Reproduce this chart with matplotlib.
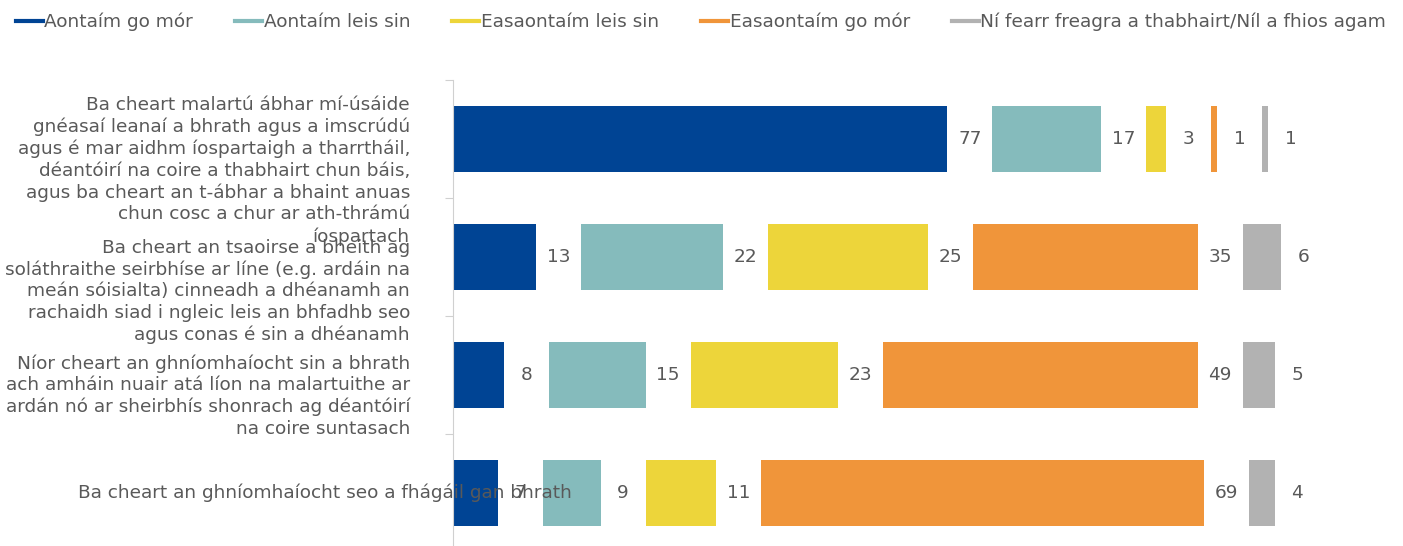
import matplotlib.pyplot as plt
import matplotlib.transforms as mtransforms
import numpy as np
from matplotlib.lines import Line2D

plt.rcParams["font.family"] = ["DejaVu Sans"]

# survey statements (top to bottom)
statements = [
    "Ba cheart malartú ábhar mí-úsáide\ngnéasaí leanaí a bhrath agus a imscrúdú\nagus é mar aidhm íospartaigh a tharrtháil,\ndéantóirí na coire a thabhairt chun báis,\nagus ba cheart an t-ábhar a bhaint anuas\nchun cosc a chur ar ath-thrámú\níospartach",
    "Ba cheart an tsaoirse a bheith ag\nsoláthraithe seirbhíse ar líne (e.g. ardáin na\nmeán sóisialta) cinneadh a dhéanamh an\nrachaidh siad i ngleic leis an bhfadhb seo\nagus conas é sin a dhéanamh",
    "Níor cheart an ghníomhaíocht sin a bhrath\nach amháin nuair atá líon na malartuithe ar\nardán nó ar sheirbhís shonrach ag déantóirí\nna coire suntasach",
    "Ba cheart an ghníomhaíocht seo a fhágáil gan bhrath",
]
answers = ["Aontaím go mór", "Aontaím leis sin", "Easaontaím leis sin",
           "Easaontaím go mór", "Ní fearr freagra a thabhairt/Níl a fhios agam"]

agree_strong = [77, 13, 8, 7]
agree = [17, 22, 15, 9]
disagree = [3, 25, 23, 11]
disagree_strong = [1, 35, 49, 69]
no_answer = [1, 6, 5, 4]

series = [agree_strong, agree, disagree, disagree_strong, no_answer]
colors = ["#004494", "#85BBBC", "#EDD53A", "#F0953A", "#B2B2B2"]
txt_col = "#595959"
FS = 13.3
GAP = 7  # blank space after each segment, holds its value label

fig = plt.figure(figsize=(14.03, 5.46), dpi=100)
ax = fig.add_axes([453 / 1403, 0, 942 / 1403, 1 - 80 / 546])

y = np.arange(len(statements))
left = np.zeros(len(statements))
for i, (vals, c) in enumerate(zip(series, colors)):
    vals = np.array(vals, dtype=float)
    ax.barh(y, vals, left=left, height=0.56, color=c, edgecolor="none")
    for yy, l, v in zip(y, left, vals):
        ax.text(l + v + GAP / 2, yy, f"{int(v)}", ha="center", va="center",
                fontsize=FS, color=txt_col)
    left = left + vals + GAP

ax.set_xlim(0, 942 / 6.42)
ax.set_ylim(3.45, -0.5)
for s in ["top", "right", "bottom"]:
    ax.spines[s].set_visible(False)
ax.spines["left"].set_color("#D0D0D0")
ax.set_xticks([])
ax.set_yticks([-0.5, 0.5, 1.5, 2.5])
ax.set_yticklabels([])
ax.tick_params(axis="y", direction="out", length=6, color="#D0D0D0")

# category labels, placed as in the original
trans = mtransforms.blended_transform_factory(fig.transFigure, ax.transData)
lab_x = [410, 410, 410, 572]
lab_dy = [0.27, 0.29, 0.18, 0.0]
for s, yy, lx, dy in zip(statements, y, lab_x, lab_dy):
    ax.text(lx / 1403, yy + dy, s, transform=trans, ha="right", va="center",
            fontsize=FS, color=txt_col, linespacing=1.25, multialignment="right")

handles = [Line2D([], [], color=c, lw=3) for c in colors]
fig.legend(handles, answers, loc="upper left", bbox_to_anchor=(0.002, 1.0),
           ncol=5, frameon=False, fontsize=FS, handlelength=1.45,
           handletextpad=0.1, columnspacing=2.27, labelcolor=txt_col,
           borderaxespad=0.3)

fig.savefig("out.png", dpi=100)
